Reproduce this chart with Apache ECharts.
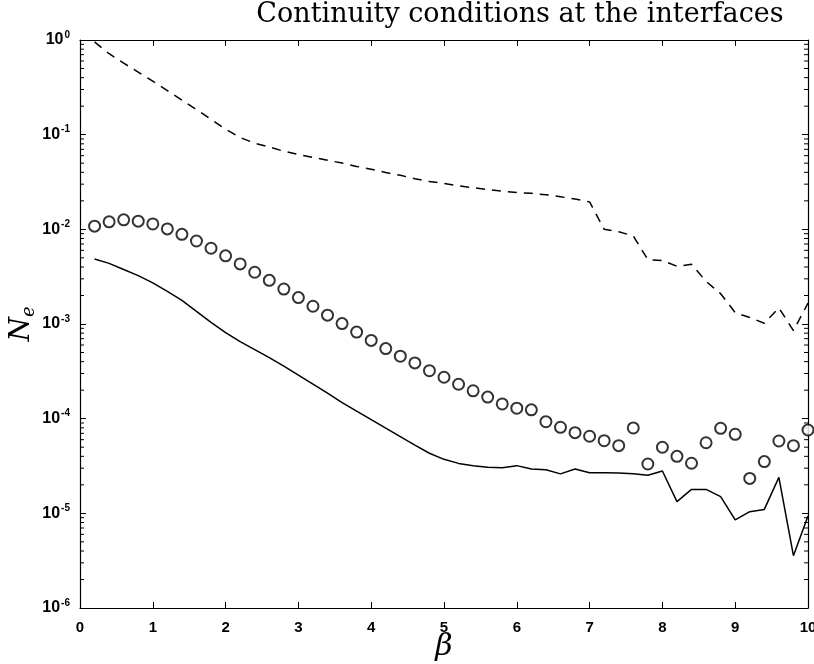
<!DOCTYPE html>
<html>
<head>
<meta charset="utf-8">
<script src="https://cdn.jsdelivr.net/npm/echarts@6/dist/echarts.min.js"></script>
<style>
  html, body { margin: 0; padding: 0; background: #fff; }
  #chart { width: 814px; height: 664px; }
</style>
</head>
<body>
<div id="chart"></div>
<script>
// beta sample points
const beta = [0.2, 0.4, 0.6, 0.8, 1.0, 1.2, 1.4, 1.6, 1.8, 2.0,
              2.2, 2.4, 2.6, 2.8, 3.0, 3.2, 3.4, 3.6, 3.8, 4.0,
              4.2, 4.4, 4.6, 4.8, 5.0, 5.2, 5.4, 5.6, 5.8, 6.0,
              6.2, 6.4, 6.6, 6.8, 7.0, 7.2, 7.4, 7.6, 7.8, 8.0,
              8.2, 8.4, 8.6, 8.8, 9.0, 9.2, 9.4, 9.6, 9.8, 10.0];

// N_e, dashed curve
const dashedNe = [0.955, 0.716, 0.569, 0.457, 0.367, 0.292, 0.232, 0.184, 0.145, 0.114,
                  0.0933, 0.0813, 0.0741, 0.0668, 0.0617, 0.0575, 0.0537, 0.0501, 0.0462, 0.0432,
                  0.0398, 0.0372, 0.0343, 0.0320, 0.0305, 0.0288, 0.0275, 0.0263, 0.0253, 0.0245,
                  0.0240, 0.0232, 0.0221, 0.0209, 0.0195, 0.0100, 0.00944, 0.00851, 0.00479, 0.00468,
                  0.00407, 0.00427, 0.00282, 0.00209, 0.00132, 0.00117, 0.00102, 0.00148, 0.000851, 0.00166];

// N_e, circle markers
const circleNe = [1.08e-2, 1.20e-2, 1.26e-2, 1.22e-2, 1.14e-2, 1.01e-2, 8.86e-3, 7.53e-3, 6.31e-3, 5.25e-3,
                  4.31e-3, 3.52e-3, 2.89e-3, 2.34e-3, 1.90e-3, 1.54e-3, 1.24e-3, 1.01e-3, 8.22e-4, 6.71e-4,
                  5.50e-4, 4.57e-4, 3.88e-4, 3.21e-4, 2.74e-4, 2.31e-4, 1.97e-4, 1.69e-4, 1.43e-4, 1.29e-4,
                  1.24e-4, 9.29e-5, 8.11e-5, 7.11e-5, 6.52e-5, 5.85e-5, 5.19e-5, 7.98e-5, 3.32e-5, 4.99e-5,
                  4.00e-5, 3.38e-5, 5.57e-5, 7.91e-5, 6.84e-5, 2.34e-5, 3.52e-5, 5.81e-5, 5.19e-5, 7.59e-5];

// N_e, solid curve
const solidNe = [4.86e-3, 4.37e-3, 3.76e-3, 3.24e-3, 2.72e-3, 2.21e-3, 1.78e-3, 1.36e-3, 1.04e-3, 8.13e-4,
                 6.50e-4, 5.37e-4, 4.42e-4, 3.59e-4, 2.88e-4, 2.32e-4, 1.86e-4, 1.48e-4, 1.20e-4, 9.77e-5,
                 7.94e-5, 6.46e-5, 5.25e-5, 4.31e-5, 3.72e-5, 3.37e-5, 3.19e-5, 3.06e-5, 3.03e-5, 3.19e-5,
                 2.94e-5, 2.89e-5, 2.61e-5, 2.94e-5, 2.69e-5, 2.69e-5, 2.67e-5, 2.62e-5, 2.52e-5, 2.80e-5,
                 1.33e-5, 1.79e-5, 1.79e-5, 1.50e-5, 8.51e-6, 1.04e-5, 1.10e-5, 2.40e-5, 3.57e-6, 9.38e-6];

// x tick labels and y decade exponents
const xTicks = ['0', '1', '2', '3', '4', '5', '6', '7', '8', '9', '10'];
const yExponents = [-6, -5, -4, -3, -2, -1, 0];

const pair = (ys) => beta.map((b, i) => [b, ys[i]]);

const labelFont = 'Liberation Sans';
const tickLabel = {
  color: '#000',
  fontFamily: labelFont,
  fontWeight: 'bold',
  fontSize: 15
};

const chart = echarts.init(document.getElementById('chart'), null, { renderer: 'canvas' });

const titleText = {
  type: 'text',
  x: 520,
  y: 15,
  style: {
    text: 'Continuity conditions at the interfaces',
    fontFamily: 'DejaVu Serif',
    fontSize: 27,
    fill: '#000',
    textAlign: 'center',
    textVerticalAlign: 'middle'
  }
};

chart.setOption({
  backgroundColor: '#fff',
  animation: false,
  graphic: [titleText],
  grid: { left: 80, top: 40, right: 6, bottom: 56, containLabel: false, outerBoundsMode: 'none' },
  xAxis: [{
    type: 'value',
    min: 0, max: 10, interval: 1,
    position: 'bottom',
    axisLine: { show: true, onZero: false, lineStyle: { color: '#000', width: 1.2 } },
    axisTick: { show: true, inside: true, length: 6, lineStyle: { color: '#000' } },
    axisLabel: Object.assign({ margin: 12, formatter: (v) => xTicks[Math.round(v)] }, tickLabel),
    splitLine: { show: false },
    name: 'β',
    nameLocation: 'middle',
    nameGap: 24,
    nameMoveOverlap: false,
    nameTextStyle: { fontFamily: 'DejaVu Serif', fontStyle: 'italic', fontSize: 30, color: '#000', verticalAlign: 'top' }
  }, {
    type: 'value',
    min: 0, max: 10, interval: 1,
    position: 'top',
    axisLine: { show: true, onZero: false, lineStyle: { color: '#000', width: 1.2 } },
    axisTick: { show: true, inside: true, length: 6, lineStyle: { color: '#000' } },
    axisLabel: { show: false },
    splitLine: { show: false }
  }],
  yAxis: [{
    type: 'log',
    logBase: 10,
    min: 1e-6, max: 1,
    position: 'left',
    axisLine: { show: true, onZero: false, lineStyle: { color: '#000', width: 1.2 } },
    axisTick: { show: true, inside: true, length: 6, lineStyle: { color: '#000' } },
    axisLabel: {
      margin: 10,
      formatter: (v) => '{a|10}{b|' + Math.round(Math.log10(v)) + '}',
      rich: {
        a: { color: '#000', fontFamily: labelFont, fontWeight: 'bold', fontSize: 16 },
        b: { color: '#000', fontFamily: labelFont, fontWeight: 'bold', fontSize: 10, verticalAlign: 'top', padding: [0, 0, 10, 1] }
      }
    },
    splitLine: { show: false },
    name: '{n|N}{e|e}',
    nameLocation: 'middle',
    nameGap: 42,
    nameRotate: 90,
    nameMoveOverlap: false,
    nameTextStyle: {
      rich: {
        n: { fontFamily: 'DejaVu Serif', fontStyle: 'italic', fontSize: 28, color: '#000' },
        e: { fontFamily: 'DejaVu Serif', fontStyle: 'italic', fontSize: 18, color: '#000', padding: [14, 0, 0, 0] }
      }
    }
  }, {
    type: 'log',
    logBase: 10,
    min: 1e-6, max: 1,
    position: 'right',
    axisLine: { show: true, onZero: false, lineStyle: { color: '#000', width: 1.2 } },
    axisTick: { show: true, inside: true, length: 6, lineStyle: { color: '#000' } },
    axisLabel: { show: false },
    splitLine: { show: false }
  }],
  series: [{
    name: 'dashed',
    type: 'line',
    data: pair(dashedNe),
    showSymbol: false,
    symbol: 'none',
    lineStyle: { color: '#000', width: 1.5, type: [9, 7] }
  }, {
    name: 'circles',
    type: 'scatter',
    data: pair(circleNe),
    symbol: 'emptyCircle',
    symbolSize: 11,
    itemStyle: { color: '#000', borderColor: '#000', borderWidth: 1.6 }
  }, {
    name: 'solid',
    type: 'line',
    data: pair(solidNe),
    showSymbol: false,
    symbol: 'none',
    lineStyle: { color: '#000', width: 1.5 }
  }]
});

// log-spaced minor ticks (2..9 x 10^k) on the left and right frame edges,
// placed through the axis scale
const minorLines = [];
for (let k = yExponents[0]; k < yExponents[yExponents.length - 1]; k++) {
  for (let m = 2; m <= 9; m++) {
    const v = m * Math.pow(10, k);
    const pl = chart.convertToPixel({ xAxisIndex: 0, yAxisIndex: 0 }, [0, v]);
    const pr = chart.convertToPixel({ xAxisIndex: 0, yAxisIndex: 0 }, [10, v]);
    minorLines.push({
      type: 'line', silent: true,
      shape: { x1: pl[0], y1: pl[1], x2: pl[0] + 4, y2: pl[1] },
      style: { stroke: '#000', lineWidth: 1 }
    });
    minorLines.push({
      type: 'line', silent: true,
      shape: { x1: pr[0], y1: pr[1], x2: pr[0] - 4, y2: pr[1] },
      style: { stroke: '#000', lineWidth: 1 }
    });
  }
}
chart.setOption({ graphic: [titleText].concat(minorLines) }, { replaceMerge: ['graphic'] });
</script>
</body>
</html>
